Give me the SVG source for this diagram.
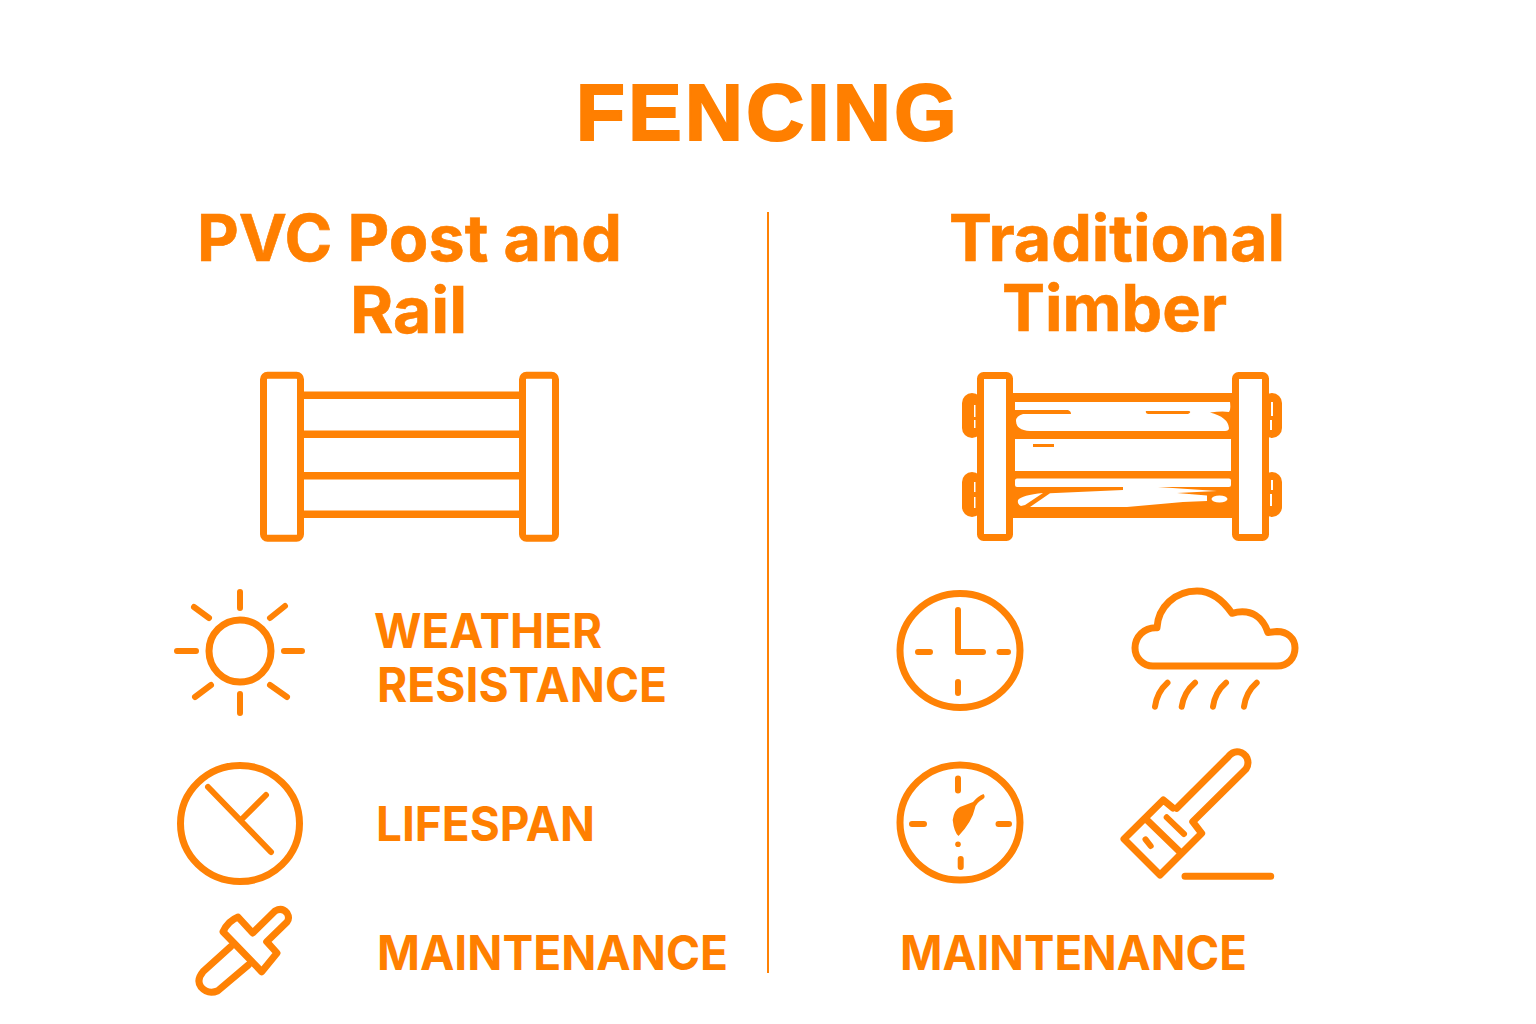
<svg xmlns="http://www.w3.org/2000/svg" width="1536" height="1024" viewBox="0 0 1536 1024">
<style>
text{font-family:Inter,"Liberation Sans",sans-serif;font-weight:700;fill:#ff7f00}
.h{font-size:64px;stroke:#ff7f00;stroke-width:.6px}.l{font-size:47.500px;font-weight:650}
.s{fill:none;stroke:#ff8205;stroke-width:7;stroke-linecap:round;stroke-linejoin:round}
.r{stroke-width:6}
.t{fill:#fff;stroke:#ff8205;stroke-width:7;stroke-linejoin:round}
.o{fill:#ff8205}.w{fill:#fff}
</style>
<rect width="1536" height="1024" fill="#fff"/>
<g id="title"><text x="576" y="139.500" font-size="80" letter-spacing="3.400" stroke="#ff7f00" stroke-width="2.200" style="font-family:'Liberation Sans',Arial,sans-serif">FENCING</text></g>
<g id="connectors"><line x1="768" y1="212" x2="768" y2="973" stroke="#ff8205" stroke-width="2"/></g>
<g id="heading-pvc"><text class="h" x="197" y="261" textLength="425" lengthAdjust="spacingAndGlyphs">PVC Post and</text><text class="h" x="350" y="333" textLength="117" lengthAdjust="spacingAndGlyphs">Rail</text></g>
<g id="heading-timber"><text class="h" x="949" y="261" textLength="336" lengthAdjust="spacingAndGlyphs">Traditional</text><text class="h" x="1002" y="331" textLength="225" lengthAdjust="spacingAndGlyphs">Timber</text></g>
<g id="fence-pvc">
<path class="s" style="stroke-width:7.500;stroke-linecap:butt" d="M300 395.300H524M300 434.300H524M300 475.700H524M300 514.300H524"/>
<rect class="t" x="263.500" y="375.200" width="37" height="163" rx="4"/><rect class="t" x="522.500" y="375.200" width="33" height="163" rx="4"/>
</g>
<g id="fence-timber">
<rect class="o" x="962" y="393" width="20" height="45" rx="10"/><rect class="o" x="962" y="472" width="20" height="45" rx="10"/><rect class="o" x="1262" y="393" width="20" height="45" rx="10"/><rect class="o" x="1262" y="472" width="20" height="45" rx="10"/>
<path class="w" d="M974 405v12h1.500v-12zM974 420v8h1.500v-8zM974 482v10h1.500v-10zM974 497v11h1.500v-11zM1271 402v14h2v-14zM1270 420v10h2v-10zM1271 480v10h2v-10zM1270 494v12h2v-12z"/>
<rect class="o" x="1010" y="393" width="225" height="125"/>
<path class="w" d="M1015 402H1230Q1231 410 1229 412Q1222 411 1210 412.500Q1228 417 1229 428Q1229 431 1225 431H1030Q1016 430 1016 421Q1016 416 1023 414H1071Q1071 411 1068 410H1015ZM1146 411Q1145 413 1148 414H1188Q1192 412 1189 411Z" fill-rule="evenodd"/>
<path class="w" d="M1015 439H1231V471H1015ZM1033 444V447H1054V444Z" fill-rule="evenodd"/>
<rect class="w" x="1015" y="478.500" width="216" height="8.500" rx="2"/>
<path class="w" d="M1050 493.300L1123 490V487H1158L1217 491L1177 493L1207 495.500L1207 501L1183 502L1127 507H1030L1050 493.300ZM1018 500Q1022 495 1043 493L1025 505L1021 506Q1017 504 1018 500Z"/>
<ellipse class="w" cx="1219.500" cy="499" rx="8" ry="3.500"/>
<rect class="t" x="980.500" y="375.500" width="29" height="162" rx="3"/><rect class="t" x="1235.500" y="375.500" width="30" height="162" rx="3"/>
</g>
<g id="icon-sun" class="s"><circle cx="240" cy="651" r="31"/><path class="r" d="M240 592V608M194 607L209 618M285 606L270 618M177 651H196M284 651H302M195 697L211 685M270 685L287 697M240 694V713"/></g>
<g id="label-weather"><text class="l" x="374" y="648" textLength="228" lengthAdjust="spacingAndGlyphs">WEATHER</text><text class="l" x="377" y="702" textLength="290" lengthAdjust="spacingAndGlyphs">RESISTANCE</text></g>
<g id="icon-clock-left" class="s"><ellipse cx="240" cy="823.500" rx="59.500" ry="58"/><path class="r" d="M208 787L271 852M266 795L242 819"/></g>
<g id="label-lifespan"><text class="l" x="376" y="841" textLength="219" lengthAdjust="spacingAndGlyphs">LIFESPAN</text></g>
<g id="icon-tool" class="s"><path d="M238 917L252.700 933L275 911Q282 907 287 913Q290 918 287 922L266.700 941.700L277 953L261.700 971.700L223 931.700Q228 921 238 917ZM230.700 946.700L203 971.700Q196 980 201 987Q208 995 218 990.700L248.300 965"/></g>
<g id="label-maintenance-left"><text class="l" x="377" y="970" textLength="351" lengthAdjust="spacingAndGlyphs">MAINTENANCE</text></g>
<g id="icon-clock-right" class="s"><ellipse cx="960" cy="650.500" rx="60" ry="57"/><path class="r" d="M958 610V652H983M918 652H930M999.500 652H1008M958 682V693"/></g>
<g id="icon-cloud" class="s"><path d="M1153 666H1277C1288 666 1295 658 1295 648C1295 638 1287 631.500 1277 631.500L1268 632.500C1263 618 1252 608 1232 613.300C1222 599 1210 591 1197 591C1175 591 1158 607 1157 627.700C1144 627 1135 637 1135 648C1135 658 1143 666 1153 666Z"/><path class="r" d="M1167.500 682.700Q1157 692 1155 706.700M1195 682.700Q1184 692 1181.700 706.700M1226 682.700Q1215 692 1213 706.700M1256.700 682.700Q1246 692 1244 706.700"/></g>
<g id="icon-gauge" class="s"><ellipse cx="960" cy="822.500" rx="60" ry="57.500"/><path class="r" d="M958 778.500V790.500M912 824H924M998.500 824H1009M960.700 859V867"/><circle style="stroke:none;fill:#ff8205" cx="958" cy="844.300" r="2.800"/><path style="stroke:none;fill:#ff8205" d="M983.500 794Q986 797 983 799Q976 803 975 808Q972 822 958.500 836Q954 832 952.700 820Q954 810 960 807Q968 804 973 802Q978 796 983.500 794Z"/></g>
<g id="icon-brush" class="s"><path d="M1176.700 808.300L1228.300 756.700C1235 748 1244 752 1247 758C1249 763 1248 766 1246 769L1192.700 821.700L1201.700 833.300L1160 875L1124 839L1163.300 800L1173 808M1147 820L1180 852M1185 876.300H1270.700"/><path class="r" d="M1166.700 817.300L1184 834M1145.500 839.300L1150.700 846"/></g>
<g id="label-maintenance-right"><text class="l" x="900" y="970" textLength="347" lengthAdjust="spacingAndGlyphs">MAINTENANCE</text></g>
</svg>
